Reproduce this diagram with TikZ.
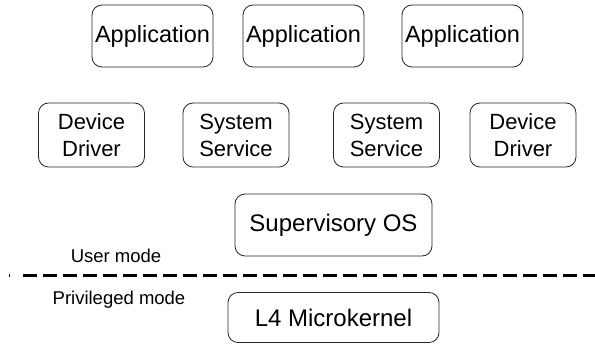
\documentclass[tikz,border=0pt]{standalone}
\usepackage{fontspec}
\setmainfont{Liberation Sans}
\begin{document}
\begin{tikzpicture}[x=1pt,y=1pt,
  box/.style={draw=black!85, line width=0.8pt, rounded corners=10pt, inner sep=0pt, align=center},
  big/.style={font=\fontsize{23.5}{27}\selectfont},
  bigger/.style={font=\fontsize{24}{27}\selectfont},
  twol/.style={font=\fontsize{22}{27}\selectfont},
  lbl/.style={font=\fontsize{18.5}{20}\selectfont, inner sep=0pt}]
\useasboundingbox (0,0) rectangle (595,-347);
% top row
\node[box,big,minimum width=121pt,minimum height=62pt] (app1) at (152.5,-36) {Application};
\node[box,big,minimum width=121pt,minimum height=62pt] (app2) at (303.5,-36) {Application};
\node[box,big,minimum width=121pt,minimum height=62pt] (app3) at (462.5,-36) {Application};
% second row
\node[box,twol,minimum width=106pt,minimum height=64pt] (dd1) at (91.5,-135) {Device\\Driver};
\node[box,twol,minimum width=106pt,minimum height=64pt] (ss1) at (236,-135) {System\\Service};
\node[box,twol,minimum width=106pt,minimum height=64pt] (ss2) at (386.5,-135) {System\\Service};
\node[box,twol,minimum width=106pt,minimum height=64pt] (dd2) at (523,-135) {Device\\Driver};
% supervisory
\node[box,bigger,minimum width=197pt,minimum height=62pt] (sup) at (333.5,-225) {Supervisory OS};
% kernel
\node[box,bigger,minimum width=211pt,minimum height=50pt] (l4) at (333.5,-317.5) {L4 Microkernel};
% labels
\node[lbl] (user) at (116,-256) {User mode};
\node[lbl] (priv) at (119,-300) {Privileged mode};
% dashed separator
\draw[line width=3pt, dash pattern=on 14pt off 6pt] (23,-276) -- (595,-276);
\draw[line width=3pt] (9,-276) -- (10,-276);
\end{tikzpicture}
\end{document}
